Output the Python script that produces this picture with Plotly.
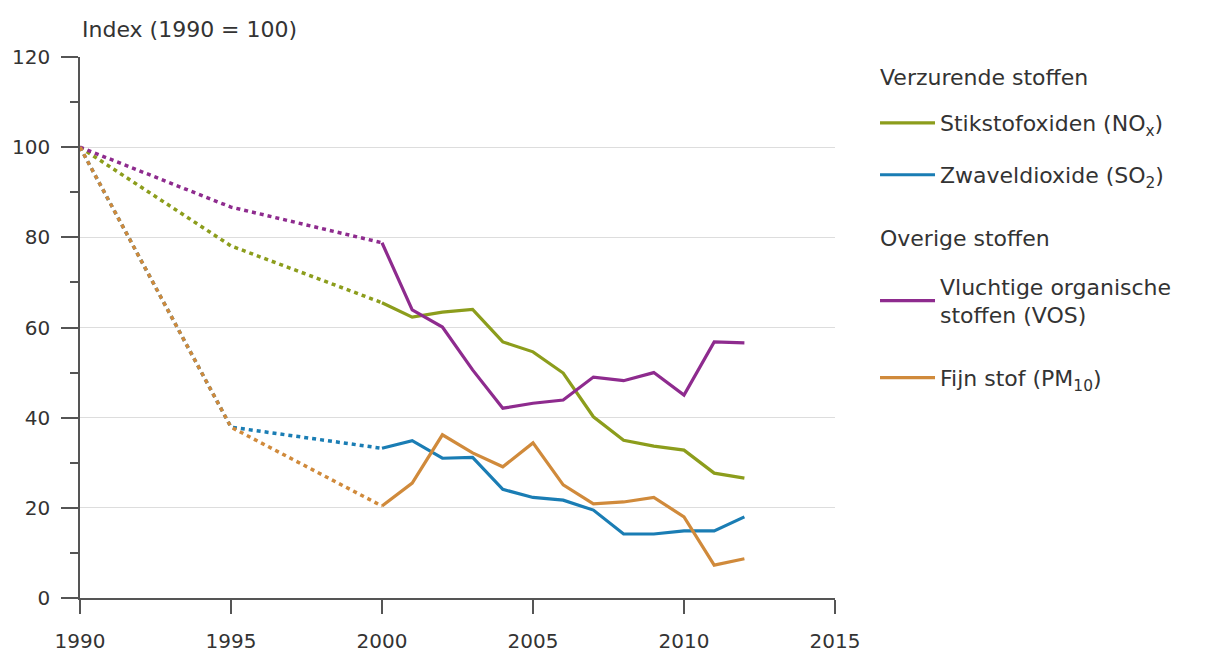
import plotly.graph_objects as go

# ---- data ----
years_early = [1990, 1995, 2000]
years_annual = list(range(2000, 2013))

nox_early = [100, 78.1, 65.5]
nox_annual = [65.5, 62.3, 63.4, 64.0, 56.8, 54.6, 49.9, 40.2, 35.0, 33.7, 32.8, 27.7, 26.6]

so2_early = [100, 37.9, 33.2]
so2_annual = [33.2, 34.9, 31.0, 31.2, 24.1, 22.3, 21.7, 19.5, 14.2, 14.2, 14.9, 14.9, 18.0]

vos_early = [100, 86.7, 78.8]
vos_annual = [78.8, 63.9, 60.1, 50.6, 42.1, 43.2, 43.9, 49.0, 48.2, 50.0, 45.0, 56.8, 56.6]

pm_early = [100, 37.9, 20.4]
pm_annual = [20.4, 25.5, 36.2, 32.2, 29.1, 34.4, 25.1, 20.9, 21.3, 22.3, 18.0, 7.3, 8.7]

x_ticks = [1990, 1995, 2000, 2005, 2010, 2015]
y_ticks = [0, 20, 40, 60, 80, 100, 120]
y_minor = [10, 30, 50, 70, 90, 110]

group_titles = ["Verzurende stoffen", "Overige stoffen"]

series = [
    dict(name="Stikstofoxiden (NO<sub>x</sub>)", early=nox_early, annual=nox_annual,
         color="#8c9d1c", legend="legend", ly=0.878),
    dict(name="Zwaveldioxide (SO<sub>2</sub>)", early=so2_early, annual=so2_annual,
         color="#1a7db4", legend="legend2", ly=0.782),
    dict(name="Vluchtige organische<br>stoffen (VOS)", early=vos_early, annual=vos_annual,
         color="#8e2b8e", legend="legend3", ly=0.549),
    dict(name="Fijn stof (PM<sub>10</sub>)", early=pm_early, annual=pm_annual,
         color="#d08a3b", legend="legend4", ly=0.407),
]

FONT = "DejaVu Sans"
TXT = "#333333"
AX = "#555555"

fig = go.Figure()

# dotted parts (orange last so it sits on top of blue)
for s in [series[1], series[0], series[2], series[3]]:
    fig.add_trace(go.Scatter(
        x=years_early, y=s["early"], mode="lines",
        line=dict(color=s["color"], width=3.5, dash="4px,4px"),
        showlegend=False, hoverinfo="skip"))

for s in series:
    fig.add_trace(go.Scatter(
        x=years_annual, y=s["annual"], mode="lines", name=s["name"],
        line=dict(color=s["color"], width=3.2), legend=s["legend"]))

legend_x = 1.053
leg_common = dict(x=legend_x, xanchor="left", yanchor="middle",
                  font=dict(family=FONT, size=22, color=TXT),
                  bgcolor="rgba(0,0,0,0)", itemwidth=55)

layout_legends = {}
for s in series:
    layout_legends[s["legend"]] = dict(y=s["ly"], **leg_common)

fig.update_layout(
    width=1203, height=645,
    margin=dict(l=72, r=376, t=49, b=55),
    paper_bgcolor="white", plot_bgcolor="white",
    font=dict(family=FONT, size=20, color=TXT),
    showlegend=True,
    annotations=[
        dict(text="Index (1990 = 100)", x=0, y=1.05, xref="paper", yref="paper",
             xanchor="left", yanchor="middle", showarrow=False,
             font=dict(family=FONT, size=22, color=TXT)),
        dict(text=group_titles[0], x=1.0570, y=0.963, xref="paper", yref="paper",
             xanchor="left", yanchor="middle", showarrow=False,
             font=dict(family=FONT, size=22, color=TXT)),
        dict(text=group_titles[1], x=1.0570, y=0.665, xref="paper", yref="paper",
             xanchor="left", yanchor="middle", showarrow=False,
             font=dict(family=FONT, size=22, color=TXT)),
    ],
    **layout_legends,
)

fig.update_xaxes(range=[1990, 2015], tickvals=x_ticks, ticktext=[str(v) for v in x_ticks],
                 showgrid=False, showline=True, linecolor=AX, linewidth=1.5,
                 ticks="outside", ticklen=14, tickwidth=1.5, tickcolor=AX,
                 ticklabelstandoff=10, automargin=False,
                 zeroline=False, tickfont=dict(family=FONT, size=20, color=TXT))
fig.update_yaxes(range=[0, 120], tickvals=y_ticks, ticktext=[str(v) for v in y_ticks],
                 showgrid=True, gridcolor="#dddddd", gridwidth=1.2,
                 showline=True, linecolor=AX, linewidth=1.5,
                 ticks="outside", ticklen=17, tickwidth=1.5, tickcolor=AX,
                 ticklabelstandoff=7, automargin=False,
                 minor=dict(tickvals=y_minor, ticks="outside", ticklen=8,
                            tickwidth=1.5, tickcolor=AX, showgrid=False),
                 zeroline=False, tickfont=dict(family=FONT, size=20, color=TXT))

fig.write_html("out.html")
